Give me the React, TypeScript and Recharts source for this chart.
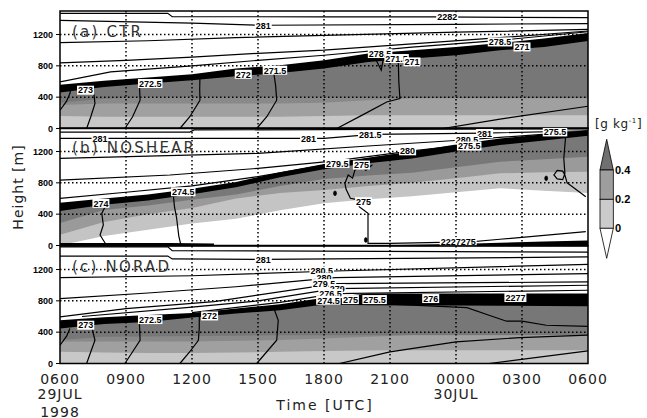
import {
  ComposedChart,
  Area,
  Line,
  Scatter,
  XAxis,
  YAxis,
  ReferenceLine,
  ReferenceArea,
} from "recharts";

type P = [number, number];

// time axis: hours after 0600 UTC 29 JUL 1998
const hours = [0, 2, 4, 6, 8, 10, 12, 14, 16, 18, 20, 22, 24];
const xTicks = [0, 3, 6, 9, 12, 15, 18, 21, 24];
const xTickLabels = ["0600", "0900", "1200", "1500", "1800", "2100", "0000", "0300", "0600"];
const xDateLabels: Record<number, string[]> = { 0: ["29JUL", "1998"], 18: ["30JUL"] };
const yTicks = [0, 400, 800, 1200];
const colorLevels = ["0.4", "0.2", "0"];

// (a) CTR shading boundaries [m]
const aBlackTop = [560, 610, 650, 693, 765, 807, 870, 957, 999, 1040, 1092, 1148, 1220];
const aBlackBase = [460, 530, 574, 616, 667, 709, 765, 850, 893, 935, 999, 1040, 1117];
const aDarkBase = [330, 380, 400, 400, 400, 400, 395, 390, 385, 385, 385, 385, 385];
const aMidDarkBase = [300, 320, 320, 320, 320, 320, 330, 360, 385, 385, 385, 385, 385];
const aMidBase = [160, 150, 150, 150, 150, 150, 160, 170, 170, 170, 170, 170, 170];

// (b) NOSHEAR
const bBlackTop = [545, 600, 650, 725, 810, 935, 1040, 1120, 1200, 1290, 1367, 1420, 1470];
const bBlackBase = [440, 520, 575, 655, 745, 870, 975, 1050, 1110, 1200, 1282, 1340, 1400];
const bDarkBase = [287, 452, 510, 584, 650, 760, 850, 895, 930, 1000, 1069, 1100, 1133];
const bMidBase = [138, 300, 400, 478, 600, 670, 710, 760, 800, 860, 921, 935, 941];
const bWhiteTop = [0, 120, 200, 280, 340, 450, 540, 590, 630, 680, 730, 700, 670];
const bGroundBlack = [0, 0, 0, 0, 0, 0, 0, 0, 8, 20, 35, 50, 65];

// (c) NORAD
const cBlackTop = [552, 590, 620, 645, 702, 756, 840, 893, 893, 893, 893, 893, 893];
const cBlackBase = [446, 505, 530, 587, 638, 680, 753, 744, 742, 740, 738, 735, 731];
const cDarkBase = [300, 340, 345, 350, 355, 360, 360, 360, 360, 360, 360, 360, 360];
const cMidDarkBase = [280, 280, 280, 280, 290, 300, 320, 340, 360, 360, 360, 360, 360];
const cMidBase = [150, 140, 135, 135, 140, 150, 160, 165, 170, 170, 170, 170, 170];

// contour lines (t, height)
const aTop1: P[] = [[0, 1470], [4.9, 1470], [5.1, 1428], [12, 1425], [17, 1424], [24, 1415]];
const a281: P[] = [[0, 1381], [6, 1345], [9.2, 1318], [18, 1330], [24, 1340]];
const aUpper: P[] = [[0, 1097], [4, 1120], [8, 1160], [12, 1190], [18, 1230], [24, 1265]];
const aMidLine: P[] = [[0, 837], [3, 870], [6, 910], [9, 960], [12, 1000], [16, 1080], [20, 1160], [24, 1245]];
const aLow: P[] = [[0, 594], [2.3, 722], [6, 800], [9, 870], [12, 935], [16, 1040], [20, 1126], [24, 1235]];
const a273: P[] = [[1.21, 0], [1.4, 150], [1.59, 319], [1.55, 420], [1.44, 531]];
const a2725: P[] = [[2.95, 0], [3.3, 150], [3.64, 361], [3.62, 500], [3.6, 594]];
const a272: P[] = [[5.45, 0], [5.9, 150], [6.36, 361], [6.35, 500], [6.36, 658]];
const a2715: P[] = [[8.94, 0], [9.4, 150], [9.85, 361], [9.8, 550], [9.7, 744]];
const a271: P[] = [[12.58, 0], [13.8, 180], [14.85, 339], [15.45, 383], [15.4, 600], [15.38, 829], [15.3, 880]];
const aEdge: P[] = [[0, 233], [0.3, 350], [0.45, 446], [0.5, 520]];
const aVee: P[] = [[14.2, 930], [14.3, 914], [14.6, 744], [14.7, 893]];
const aRise: P[] = [[17.4, 0], [20, 120], [24, 284]];

const bTop1: P[] = [[0, 1448], [5.9, 1448], [6.1, 1475], [24, 1490]];
const b281: P[] = [[0, 1367], [12, 1367], [14.2, 1418], [19.3, 1435], [24, 1465]];
const bUpper: P[] = [[0, 1112], [9, 1176], [14, 1270], [18.5, 1350], [24, 1460]];
const bMidLine: P[] = [[0, 835], [5, 900], [9, 985], [12.5, 1080], [16, 1209], [20, 1330], [24, 1440]];
const bLow: P[] = [[0, 602], [3, 680], [6, 760], [9, 880], [12.3, 1040], [15, 1150], [18.5, 1280], [24, 1445]];
const b274: P[] = [[2.12, 0], [1.82, 134], [1.97, 261], [1.9, 410], [2.05, 495], [2.1, 538]];
const b2745: P[] = [[5.5, 0], [5.4, 120], [5.3, 351], [5.2, 500], [5.15, 648], [5.4, 686]];
const b275: P[] = [
  [14.2, 1030], [13.9, 960], [13.7, 1030], [13.4, 960], [13.3, 860], [13.1, 900], [12.95, 793],
  [13.0, 720], [13.2, 602], [13.6, 580], [13.6, 495], [14, 410], [14, 28], [15, 28], [17.3, 40],
];
const bRight: P[] = [
  [23.0, 1450], [22.9, 1112], [22.95, 920], [22.85, 840], [22.6, 850], [22.45, 900],
  [22.6, 960], [22.85, 950], [22.95, 900], [23.05, 800], [23.2, 770], [23.9, 622],
];
const bRise: P[] = [[17.9, 28], [20, 80], [23.9, 176]];
const bGroundLine: P[] = [[0, 15], [2, 15], [5, 15], [7, 8]];
const bBlobs = [{ t: 12.5, h: 666 }, { t: 13.9, h: 70 }, { t: 22.1, h: 857 }];

const cTop1: P[] = [[0, 1490], [4.9, 1490], [5.1, 1440], [24, 1423]];
const c281: P[] = [[0, 1372], [4.9, 1372], [5.1, 1335], [9.2, 1330], [24, 1360]];
const cUpper: P[] = [[0, 1097], [6, 1120], [12.5, 1181], [24, 1266]];
const cMid1: P[] = [[0, 829], [4, 900], [8, 980], [12.5, 1097], [24, 1148]];
const cMid2: P[] = [[0, 594], [3, 700], [7, 790], [12.5, 1020], [24, 1041]];
const cMid3: P[] = [[1, 600], [6, 720], [9, 800], [12.5, 957], [24, 999]];
const cMid4: P[] = [[6, 650], [10, 780], [12.5, 893], [24, 935]];
const c273: P[] = [[1.21, 0], [1.4, 150], [1.59, 297], [1.5, 400], [1.44, 489]];
const c2725: P[] = [[2.95, 0], [3.3, 150], [3.64, 297], [3.62, 450], [3.6, 561]];
const c272: P[] = [[5.45, 0], [5.9, 150], [6.29, 297], [6.33, 450], [6.33, 607]];
const c2715: P[] = [[8.94, 0], [9.4, 150], [9.85, 297], [9.92, 552], [9.7, 722]];
const cEdge: P[] = [[0, 233], [0.3, 350], [0.45, 446]];
const cInner: P[] = [[12.5, 760], [14.5, 765], [18.5, 714], [19.5, 616], [20.3, 540], [21, 540], [22.1, 488], [24, 475]];
const cRise1: P[] = [[12.7, 0], [15, 148], [18, 276], [20.9, 331], [24, 361]];
const cRise2: P[] = [[19.5, 0], [24, 160]];

const aLabels = [
  { t: 1.16, h: 489, label: "273" },
  { t: 4.1, h: 574, label: "272.5" },
  { t: 8.33, h: 692, label: "272" },
  { t: 9.77, h: 744, label: "271.5" },
  { t: 14.55, h: 957, label: "278.5" },
  { t: 15.3, h: 893, label: "271.5" },
  { t: 16, h: 850, label: "271" },
  { t: 20, h: 1105, label: "278.5" },
  { t: 21, h: 1041, label: "271" },
  { t: 9.24, h: 1318, label: "281" },
  { t: 17.6, h: 1424, label: "2282" },
];
const bLabels = [
  { t: 1.82, h: 1367, label: "281" },
  { t: 11.3, h: 1367, label: "281" },
  { t: 14.1, h: 1409, label: "281.5" },
  { t: 19.3, h: 1430, label: "281" },
  { t: 18.5, h: 1345, label: "280.5" },
  { t: 18.6, h: 1270, label: "275.5" },
  { t: 15.8, h: 1209, label: "280" },
  { t: 12.6, h: 1048, label: "279.5" },
  { t: 13.7, h: 1027, label: "275" },
  { t: 13.8, h: 559, label: "275" },
  { t: 18.1, h: 48, label: "2227275" },
  { t: 1.86, h: 538, label: "274" },
  { t: 5.6, h: 686, label: "274.5" },
  { t: 22.5, h: 1450, label: "275.5" },
];
const cLabels = [
  { t: 1.17, h: 489, label: "273" },
  { t: 4.1, h: 561, label: "272.5" },
  { t: 6.8, h: 607, label: "272" },
  { t: 9.24, h: 1330, label: "281" },
  { t: 11.9, h: 1181, label: "280.5" },
  { t: 12.0, h: 1097, label: "280" },
  { t: 12.0, h: 1020, label: "279.5" },
  { t: 12.6, h: 957, label: "279" },
  { t: 12.3, h: 893, label: "276.5" },
  { t: 12.2, h: 807, label: "274.5" },
  { t: 13.2, h: 816, label: "275" },
  { t: 14.3, h: 816, label: "275.5" },
  { t: 16.85, h: 829, label: "276" },
  { t: 20.7, h: 842, label: "2277" },
];

const toPts = (pts: P[]) => pts.map(([t, h]) => ({ t, h }));

const rowsA = hours.map((t, i) => ({
  t, f0: aBlackTop[i], f1: aBlackBase[i], f2: aDarkBase[i], f3: aMidDarkBase[i], f4: aMidBase[i],
}));
const rowsB = hours.map((t, i) => ({
  t, f0: bBlackTop[i], f1: bBlackBase[i], f2: bDarkBase[i], f3: bMidBase[i], f4: bWhiteTop[i], f5: bGroundBlack[i],
}));
const rowsC = hours.map((t, i) => ({
  t, f0: cBlackTop[i], f1: cBlackBase[i], f2: cDarkBase[i], f3: cMidDarkBase[i], f4: cMidBase[i],
}));

const fillsA = ["#000", "#777", "#898989", "#a0a0a0", "#c8c8c8"];
const fillsB = ["#000", "#787878", "#9a9a9a", "#c4c4c4", "#fff", "#000"];
const fillsC = ["#000", "#777", "#898989", "#a0a0a0", "#c8c8c8"];

const SANS = "'DejaVu Sans', Verdana, sans-serif";
const BOLD = "'Liberation Sans', Arial, sans-serif";

function labelWidth(s: string) {
  let w = 2;
  for (const ch of s) w += ch === "." ? 2.5 : 5;
  return w;
}

function ContourLabel(props: any) {
  const { cx, cy, payload } = props;
  if (cx == null || cy == null) return null;
  const s = String(payload.label);
  const w = labelWidth(s);
  return (
    <g>
      <rect x={cx - w / 2} y={cy - 4.5} width={w} height={9} fill="#fff" />
      <text x={cx} y={cy + 3.3} textAnchor="middle" fontSize={9} fontWeight="bold" fontFamily={BOLD} fill="#000">
        {s}
      </text>
    </g>
  );
}

function Blob(props: any) {
  const { cx, cy } = props;
  if (cx == null || cy == null) return null;
  return <ellipse cx={cx} cy={cy} rx={1.5} ry={2.4} fill="#000" stroke="#000" strokeWidth={0.6} />;
}

function TimeTick(props: any) {
  const { x, y, payload } = props;
  const i = xTicks.indexOf(payload.value);
  const extra = xDateLabels[payload.value] || [];
  const st = { fontSize: 14, fontFamily: SANS, fill: "#222", letterSpacing: 1 } as const;
  return (
    <g>
      <text x={x} y={y + 20} textAnchor="middle" {...st}>{xTickLabels[i]}</text>
      {extra.map((s, k) => (
        <text key={s} x={x} y={y + 35.5 + k * 17.5} textAnchor="middle" {...st}>{s}</text>
      ))}
    </g>
  );
}

interface PanelProps {
  top: number;
  rows: any[];
  fills: string[];
  lines: P[][];
  thick?: P[][];
  labels: any[];
  blobs?: any[];
  showX?: boolean;
}

const PLOT_H = 117.5;

function Panel({ top, rows, fills, lines, thick = [], labels, blobs = [], showX = false }: PanelProps) {
  const bottom = showX ? 55 : 8;
  return (
    <div style={{ position: "absolute", left: 0, top: top - 2 }}>
      <ComposedChart
        width={647}
        height={PLOT_H + 2 + bottom}
        data={rows}
        margin={{ top: 2, right: 59, bottom: showX ? 0 : 8, left: 0 }}
      >
        <XAxis
          type="number"
          dataKey="t"
          domain={[0, 24]}
          ticks={xTicks}
          allowDataOverflow
          hide={!showX}
          height={showX ? 55 : 0}
          axisLine={false}
          tickLine={false}
          tickSize={0}
          tickMargin={0}
          tick={TimeTick}
          interval={0}
        />
        <YAxis
          type="number"
          domain={[0, 1500]}
          ticks={yTicks}
          allowDataOverflow
          width={60}
          axisLine={false}
          tickLine={{ stroke: "#000" }}
          tickSize={4}
          tickMargin={3}
          interval={0}
          tick={{ fontSize: 9, fontWeight: "bold", fill: "#000", fontFamily: BOLD }}
        />
        {fills.map((c, i) => (
          <Area
            key={"f" + i}
            type="linear"
            dataKey={"f" + i}
            fill={c}
            fillOpacity={1}
            stroke="none"
            isAnimationActive={false}
            dot={false}
            activeDot={false}
          />
        ))}
        {lines.map((l, i) => (
          <Line
            key={"l" + i}
            data={toPts(l)}
            dataKey="h"
            type="linear"
            stroke="#000"
            strokeWidth={1.2}
            dot={false}
            activeDot={false}
            isAnimationActive={false}
          />
        ))}
        {thick.map((l, i) => (
          <Line
            key={"k" + i}
            data={toPts(l)}
            dataKey="h"
            type="linear"
            stroke="#000"
            strokeWidth={2.5}
            dot={false}
            activeDot={false}
            isAnimationActive={false}
          />
        ))}
        {xTicks.slice(1, -1).map((t) => (
          <ReferenceLine key={"vx" + t} x={t} stroke="#000" strokeWidth={1.5} strokeDasharray="1.5 2.5" />
        ))}
        {yTicks.slice(1).map((h) => (
          <ReferenceLine key={"hy" + h} y={h} stroke="#000" strokeWidth={1.5} strokeDasharray="1.5 2.5" />
        ))}
        {blobs.length > 0 && (
          <Scatter data={blobs} dataKey="h" shape={Blob} isAnimationActive={false} />
        )}
        <Scatter data={labels} dataKey="h" shape={ContourLabel} isAnimationActive={false} />
        <ReferenceArea x1={0} x2={24} y1={0} y2={1500} fill="none" fillOpacity={0} stroke="#000" strokeWidth={1.5} />
      </ComposedChart>
    </div>
  );
}

export default function App() {
  return (
    <div style={{ position: "absolute", left: 0, top: 0, width: 647, height: 418, background: "#fff", overflow: "hidden" }}>
      <Panel
        top={10.7}
        rows={rowsA}
        fills={fillsA}
        lines={[aTop1, a281, aUpper, aMidLine, aLow, a273, a2725, a272, a2715, a271, aEdge, aVee, aRise]}
        labels={aLabels}
      />
      <Panel
        top={128.2}
        rows={rowsB}
        fills={fillsB}
        lines={[bTop1, b281, bUpper, bMidLine, bLow, b274, b2745, b275, bRight, bRise]}
        thick={[bGroundLine]}
        labels={bLabels}
        blobs={bBlobs}
      />
      <Panel
        top={245.8}
        rows={rowsC}
        fills={fillsC}
        lines={[cTop1, c281, cUpper, cMid1, cMid2, cMid3, cMid4, c273, c2725, c272, c2715, cEdge, cInner, cRise1, cRise2]}
        labels={cLabels}
        showX
      />
      <svg width={647} height={418} style={{ position: "absolute", left: 0, top: 0, pointerEvents: "none" }}>
        <g fontFamily={SANS} fill="#333" fontSize={15} letterSpacing={2.2}>
          <text x={72} y={37.3}>(a) CTR</text>
          <text x={72} y={153.3}>(b) NOSHEAR</text>
          <text x={72} y={271.7}>(c) NORAD</text>
        </g>
        <text
          x={0}
          y={0}
          transform="translate(23,187) rotate(-90)"
          textAnchor="middle"
          fontFamily={SANS}
          fontSize={14}
          letterSpacing={1}
          fill="#222"
        >
          Height [m]
        </text>
        <text x={325} y={410} textAnchor="middle" fontFamily={SANS} fontSize={14} letterSpacing={2} fill="#222">
          Time [UTC]
        </text>
        {/* colour bar */}
        <text x={595} y={128} fontFamily={SANS} fontSize={12} letterSpacing={0.6} fill="#222">
          [g kg<tspan dy={-5} fontSize={7}>-1</tspan><tspan dy={5}>]</tspan>
        </text>
        <polygon points="606.7,139.3 600,170 613.3,170" fill="#707070" stroke="#000" strokeWidth={0.8} />
        <rect x={600} y={170} width={13.3} height={29.3} fill="#9e9e9e" stroke="#000" strokeWidth={0.8} />
        <rect x={600} y={199.3} width={13.3} height={29} fill="#cbcbcb" stroke="#000" strokeWidth={0.8} />
        <polygon points="600,228.3 613.3,228.3 606.7,258.3" fill="#fff" stroke="#000" strokeWidth={0.8} />
        {colorLevels.map((s, i) => (
          <text
            key={s}
            x={615}
            y={[170, 199.3, 228.3][i] + 4}
            fontFamily={BOLD}
            fontWeight="bold"
            fontSize={11}
            fill="#000"
          >
            {s}
          </text>
        ))}
      </svg>
    </div>
  );
}
